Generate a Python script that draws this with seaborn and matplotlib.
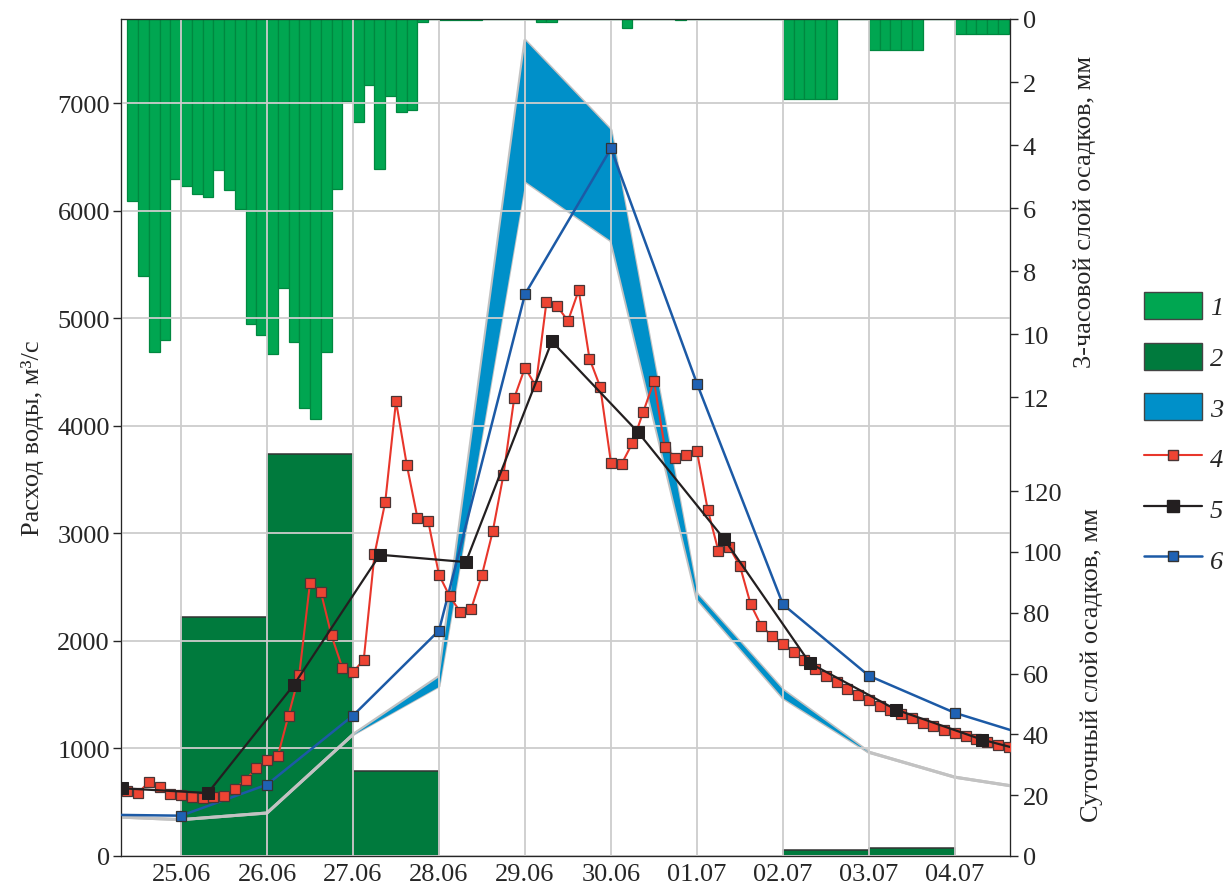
import matplotlib
matplotlib.use("Agg")
import matplotlib.pyplot as plt
import matplotlib.dates as mdates
from matplotlib.patches import Patch
from matplotlib.lines import Line2D
import pandas as pd
import seaborn as sns

# 4: measured discharge, every 3 h from 24.06 09:00
q_obs = [602, 586, 686, 640, 577, 568, 552, 537, 546, 556, 624, 707, 816, 897, 928,
         1306, 1685, 2541, 2460, 2051, 1753, 1709, 1826, 2805, 3292, 4229, 3640, 3143,
         3112, 2616, 2414, 2268, 2299, 2616, 3019, 3547, 4260, 4542, 4372, 5154, 5113,
         4977, 5262, 4626, 4363, 3658, 3649, 3841, 4130, 4415, 3804, 3702, 3726, 3764,
         3221, 2836, 2873, 2697, 2340, 2138, 2045, 1973, 1896, 1822, 1741, 1673, 1617,
         1554, 1499, 1452, 1399, 1362, 1322, 1282, 1238, 1207, 1176, 1145, 1120, 1089,
         1058, 1033, 1012]
# 5: daily discharge (07:30), from 24.06
q_daily = [630, 586, 1592, 2802, 2734, 4787, 3944, 2951, 1794, 1362, 1083, 874]
# 6: model discharge, daily 00:00 from 24.06
q_model = [385, 375, 664, 1306, 2097, 5225, 6581, 4394, 2340, 1676, 1331, 1084]
# 3: range of model runs, daily 00:00 from 24.06
band_low = [372, 338, 400, 1130, 1580, 6277, 5722, 2390, 1470, 965, 733, 610]
band_high = [372, 338, 400, 1130, 1670, 7588, 6752, 2440, 1545, 965, 733, 610]
# 1: 3-hour precipitation, mm, from 24.06 09:00
rain_3h = [5.78, 8.16, 10.58, 10.2, 5.09, 5.30, 5.57, 5.64, 4.79, 5.44, 6.02, 9.68,
           10.03, 10.64, 8.55, 10.24, 12.34, 12.71, 10.58, 5.40, 2.60, 3.26, 2.10, 4.77,
           2.46, 2.94, 2.90, 0.11, 0, 0.03, 0.03, 0.03, 0.03, 0, 0, 0, 0, 0, 0.1, 0.1,
           0, 0, 0, 0, 0, 0, 0.3, 0, 0, 0, 0, 0.03, 0, 0, 0, 0, 0, 0, 0, 0, 0,
           2.55, 2.55, 2.55, 2.55, 2.55, 0, 0, 0, 0.98, 0.98, 0.98, 0.98, 0.98, 0, 0, 0,
           0.49, 0.49, 0.49, 0.49, 0.49]
# 2: daily precipitation, mm, from 25.06
rain_day = [78.7, 132.2, 27.9, 0, 0, 0, 0, 2.0, 2.7, 0]

t_obs = pd.date_range("2019-06-24 09:00", periods=len(q_obs), freq="3h")
t_daily = pd.date_range("2019-06-24 07:30", periods=len(q_daily), freq="D")
t_model = pd.date_range("2019-06-24", periods=len(q_model), freq="D")
t_rain3 = pd.date_range("2019-06-24 09:00", periods=len(rain_3h), freq="3h")
t_rain_day = pd.date_range("2019-06-25", periods=len(rain_day), freq="D")

sns.set_style("ticks")
plt.rcParams["font.family"] = ["Liberation Serif", "DejaVu Serif"]
fs = 19

fig = plt.figure(figsize=(12.3, 8.87), dpi=100)
ax = fig.add_axes([121 / 1230, 1 - 857 / 887, 889 / 1230, 837 / 887])
ax_d = ax.twinx()
ax_h = ax.twinx()
ax.set_zorder(5)
ax.patch.set_visible(False)

# precipitation bars
ax_h.bar(t_rain3, rain_3h, width=pd.Timedelta(hours=3), align="edge",
         color="#00A651", edgecolor="#008840", linewidth=0.9)
ax_h.set_ylim(26.57, 0)
ax_h.set_yticks(range(0, 13, 2))
ax_h.set_ylabel("3-часовой слой осадков, мм", fontsize=fs)
ax_h.yaxis.set_label_coords(1.071, 0.771)

ax_d.bar(t_rain_day, rain_day, width=pd.Timedelta(days=1), align="edge",
         color="#007A3D", edgecolor="#333333", linewidth=1.1)
ax_d.set_ylim(0, 275.3)
ax_d.set_yticks(range(0, 121, 20))
ax_d.set_ylabel("Суточный слой осадков, мм", fontsize=fs)
ax_d.yaxis.set_label_coords(1.079, 0.229)

for a in (ax_h, ax_d):
    a.tick_params(axis="y", direction="out", length=6, width=1, labelsize=fs, pad=3)

# band of model runs
gray = "#C2C2C2"
sns.lineplot(x=t_model, y=band_low, ax=ax, color=gray, lw=2.2, zorder=1.1)
sns.lineplot(x=t_model, y=band_high, ax=ax, color=gray, lw=2.2, zorder=1.1)
ax.fill_between(t_model, band_low, band_high, color="#0090C9", lw=0, zorder=1.2)

# discharge lines
sns.lineplot(x=t_model, y=q_model, ax=ax, color="#1C5AA6", lw=1.8, marker="s",
             markersize=7.5, markerfacecolor="#1F62B4", markeredgecolor="#333333",
             markeredgewidth=0.9, zorder=3)
sns.lineplot(x=t_obs, y=q_obs, ax=ax, color="#E8362B", lw=1.5, marker="s",
             markersize=7.2, markerfacecolor="#EE4433", markeredgecolor="#4A3535",
             markeredgewidth=0.9, zorder=4)
sns.lineplot(x=t_daily, y=q_daily, ax=ax, color="#231F20", lw=1.6, marker="s",
             markersize=8, markerfacecolor="#231F20", markeredgecolor="#231F20",
             zorder=5)

ax.set_xlim(pd.Timestamp("2019-06-24 07:15"), pd.Timestamp("2019-07-04 15:22"))
ax.set_ylim(0, 7785)
ax.set_yticks(range(0, 7001, 1000))
ax.xaxis.set_major_locator(mdates.DayLocator())
ax.xaxis.set_major_formatter(mdates.DateFormatter("%d.%m"))
ax.grid(True, color="#CDCDCD", lw=1.3)
ax.set_axisbelow("line")
ax.tick_params(axis="x", length=0, pad=5, labelsize=fs)
ax.tick_params(axis="y", direction="out", length=6, width=1, labelsize=fs, pad=2)
ax.set_xlabel("")
ax.set_ylabel("Расход воды, м³/с", fontsize=fs)
ax.yaxis.set_label_coords(-0.087, 0.5)

handles = [
    Patch(facecolor="#00A651", edgecolor="#444444", lw=1),
    Patch(facecolor="#007A3D", edgecolor="#444444", lw=1),
    Patch(facecolor="#0090C9", edgecolor="#444444", lw=1),
    Line2D([], [], color="#E8362B", lw=1.5, marker="s", ms=7.2,
           mfc="#EE4433", mec="#4A3535"),
    Line2D([], [], color="#231F20", lw=1.6, marker="s", ms=8, mfc="#231F20"),
    Line2D([], [], color="#1C5AA6", lw=1.8, marker="s", ms=7.5,
           mfc="#1F62B4", mec="#333333"),
]
fig.legend(handles, ["1", "2", "3", "4", "5", "6"], loc="upper left",
           bbox_to_anchor=(1144 / 1230, 1 - 293 / 887), frameon=False,
           prop={"style": "italic", "size": fs}, handlelength=2.2,
           handleheight=1.2, labelspacing=0.88, handletextpad=0.3,
           borderpad=0, borderaxespad=0)

fig.savefig("out.png", dpi=100)
